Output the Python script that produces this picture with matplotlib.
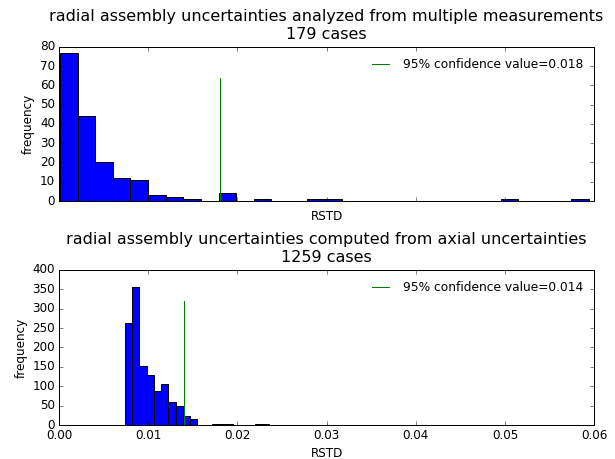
import numpy as np
import matplotlib
matplotlib.use("Agg")
import matplotlib.pyplot as plt

plt.style.use("classic")

# top panel: measured uncertainties, 30 bins
meas_counts = [77, 44, 20, 12, 11, 3, 2, 1, 0, 4, 0, 1, 0, 0, 1, 1,
               0, 0, 0, 0, 0, 0, 0, 0, 0, 1, 0, 0, 0, 1]
meas_range = (0.0001, 0.0594)
meas_conf = 0.018
meas_line_top = 64

# bottom panel: computed from axial uncertainties, 20 bins
calc_counts = [263, 355, 152, 129, 89, 106, 60, 50, 24, 16,
               1, 1, 3, 3, 3, 0, 0, 0, 2, 2]
calc_range = (0.0074, 0.0236)
calc_conf = 0.014
calc_line_top = 320

titles = ["radial assembly uncertainties analyzed from multiple measurements\n179 cases",
          "radial assembly uncertainties computed from axial uncertainties\n1259 cases"]


def draw(ax, counts, rng, conf, top, ymax, title):
    edges = np.linspace(rng[0], rng[1], len(counts) + 1)
    centers = (edges[:-1] + edges[1:]) / 2
    ax.hist(centers, bins=edges, weights=counts, color="b", edgecolor="k")
    ax.plot([conf, conf], [0, top], "g-",
            label="95%% confidence value=%.3f" % conf)
    ax.set_xlim(0, 0.06)
    ax.set_ylim(0, ymax)
    ax.set_xlabel("RSTD", fontsize=12)
    ax.set_ylabel("frequency", fontsize=12)
    ax.set_title(title, fontsize=16, pad=8)
    ax.legend(loc="upper right", frameon=False, fontsize=12.3)


fig = plt.figure(figsize=(615 / 72, 459 / 72), dpi=72, facecolor="white")
ax1 = fig.add_axes([0.096, 0.562, 0.870, 0.336])
ax2 = fig.add_axes([0.096, 0.074, 0.870, 0.338])

draw(ax1, meas_counts, meas_range, meas_conf, meas_line_top, 80, titles[0])
draw(ax2, calc_counts, calc_range, calc_conf, calc_line_top, 400, titles[1])
ax1.set_xticklabels([])

fig.savefig("out.png", dpi=72, facecolor="white")
